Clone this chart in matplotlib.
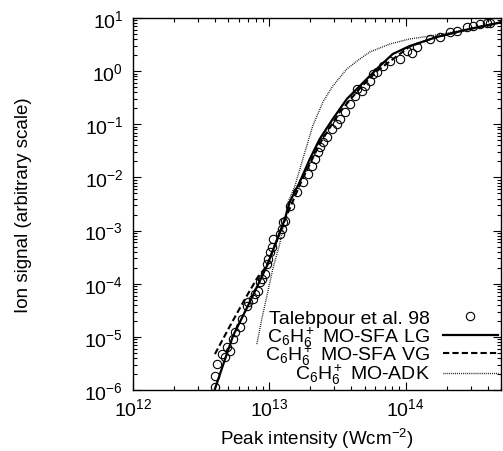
import matplotlib
matplotlib.use("Agg")
import matplotlib.pyplot as plt
from matplotlib.lines import Line2D
from matplotlib.ticker import LogLocator, NullFormatter

plt.rcParams['font.family'] = ['Liberation Sans', 'DejaVu Sans']
plt.rcParams['mathtext.fontset'] = 'custom'
plt.rcParams['mathtext.rm'] = 'Liberation Sans'
plt.rcParams['mathtext.it'] = 'Liberation Sans:italic'
plt.rcParams['mathtext.bf'] = 'Liberation Sans:bold'

# Experimental data (Talebpour et al. 98); intensity in units of 1e12 W/cm^2
exp_I = [3.99, 3.99, 4.12, 4.72, 4.49, 5.14, 4.89, 5.41, 5.58, 6.08, 6.30, 6.84, 6.95,
         7.57, 7.83, 8.24, 8.51, 8.81, 9.27, 9.59, 9.75, 10.1, 10.4, 10.6, 11.9, 12.4,
         13.0, 12.6, 14.1, 15.9, 17.6, 19.1, 20.5, 21.5, 22.6, 23.4, 24.7, 26.4, 28.7,
         31.3, 32.8, 35.7, 38.9, 42.3, 43.8, 47.6, 50.1, 54.5, 57.3, 61.4, 67.9, 76.4,
         90.4, 102, 111, 121, 150, 177, 210, 237, 280, 310, 348, 392, 412]
exp_S = [1.14e-6, 1.83e-6, 3.08e-6, 4.18e-6, 4.75e-6, 5.42e-6, 6.44e-6, 9.1e-6, 1.23e-5,
         1.53e-5, 2.17e-5, 3.80e-5, 4.53e-5, 5.15e-5, 6.40e-5, 7.29e-5, 1.08e-4, 1.23e-4,
         1.52e-4, 2.35e-4, 2.92e-4, 3.95e-4, 4.91e-4, 6.93e-4, 8.61e-4, 1.07e-3, 1.51e-3,
         1.45e-3, 2.90e-3, 5.32e-3, 8.20e-3, 1.16e-2, 1.64e-2, 2.22e-2, 3.01e-2, 3.73e-2,
         4.65e-2, 5.77e-2, 8.15e-2, 0.101, 0.126, 0.170, 0.241, 0.340, 0.461, 0.423, 0.525,
         0.652, 0.883, 0.964, 1.25, 1.55, 1.69, 2.39, 2.2, 2.84, 4.03, 4.39, 5.46, 5.69,
         6.78, 7.06, 7.71, 8.05, 8.05]

# MO-SFA length gauge
lg_I = [3.99, 5.41, 7.19, 9.59, 13.0, 14.1, 16.7, 19.8, 23.4, 29.2, 37.0, 46.0, 61.4,
        80.3, 107, 169, 294, 514]
lg_S = [1.05e-6, 1.04e-5, 4.53e-5, 2.15e-4, 1.65e-3, 3.44e-3, 8.2e-3, 2.22e-2, 5.28e-2,
        0.126, 0.299, 0.525, 1.10, 2.10, 2.97, 4.39, 6.21, 8.41]

# MO-SFA velocity gauge
vg_I = [3.99, 5.14, 6.62, 8.24, 9.59, 13.0, 16.7, 23.4, 32.8, 46.0, 61.4, 107,
        169, 294, 514]
vg_S = [4.75e-6, 1.60e-5, 5.15e-5, 1.34e-4, 2.15e-4, 1.58e-3, 7.2e-3, 4.3e-2,
        0.17, 0.47, 1.0, 2.9, 4.39, 6.21, 8.41]

# MO-ADK
adk_I = [8.10, 8.81, 9.59, 10.6, 11.9, 13.0, 13.7, 15.4, 17.6, 20.8, 24.7, 29.2, 37.0,
         46.0, 54.5, 76.4, 107, 169, 294, 514]
adk_S = [7.3e-6, 2.17e-5, 5.87e-5, 1.89e-4, 5.58e-4, 1.65e-3, 3.44e-3, 6.9e-3, 2.22e-2,
         9.3e-2, 0.262, 0.525, 1.10, 1.69, 2.29, 3.24, 4.03, 4.8, 6.21, 8.41]

labels = ['Talebpour et al. 98', r'C$_6$H$_6^+$ MO-SFA LG',
          r'C$_6$H$_6^+$ MO-SFA VG', r'C$_6$H$_6^+$ MO-ADK']

scale = 1e12

fig = plt.figure(figsize=(5.03, 4.52), dpi=100)
ax = fig.add_axes([133/503, 1 - 391/452, (501-133)/503, (391-19)/452])

st_exp = dict(marker='o', ls='none', mfc='none', mec='black', ms=6, mew=0.8)
st_lg = dict(ls='-', color='black', lw=1.6)
st_vg = dict(ls='--', color='black', lw=1.5, dashes=(3, 1.5))
st_adk = dict(ls=':', color='black', lw=1.0, dashes=(0.6, 0.8))

ax.plot([i*scale for i in exp_I], exp_S, **st_exp)
ax.plot([i*scale for i in lg_I], lg_S, **st_lg)
ax.plot([i*scale for i in vg_I], vg_S, **st_vg)
ax.plot([i*scale for i in adk_I], adk_S, **st_adk)

ax.set_xscale('log')
ax.set_yscale('log')
ax.set_xlim(1e12, 5e14)
ax.set_ylim(1e-6, 1e1)

ax.xaxis.set_major_locator(LogLocator(base=10, numticks=10))
ax.xaxis.set_minor_locator(LogLocator(base=10, subs=range(2, 10), numticks=20))
ax.yaxis.set_major_locator(LogLocator(base=10, numticks=10))
ax.yaxis.set_minor_locator(LogLocator(base=10, subs=range(2, 10), numticks=20))
ax.xaxis.set_minor_formatter(NullFormatter())
ax.yaxis.set_minor_formatter(NullFormatter())

ax.tick_params(which='both', direction='in', top=True, right=True, labelsize=14,
               width=0.8)
ax.tick_params(which='major', length=6)
ax.tick_params(axis='x', which='major', pad=5)
ax.tick_params(axis='y', which='major', pad=7)
ax.tick_params(which='minor', length=3)
for s in ax.spines.values():
    s.set_linewidth(1.0)

ax.set_xlabel(r'Peak intensity (Wcm$^{-2}$)', fontsize=13.5, labelpad=5)
ax.set_ylabel('Ion signal (arbitrary scale)', fontsize=13.5, labelpad=38)

# Key (gnuplot-style: right-aligned text, sample to the right)
text_x = 0.807
h_x0, h_x1 = 0.842, 0.992
baselines = [0.180, 0.129, 0.0806, 0.0296]
sample_y = [0.199, 0.148, 0.0995, 0.0457]
styles = [st_exp, st_lg, st_vg, st_adk]
for lab, yb, ys, st in zip(labels, baselines, sample_y, styles):
    ax.text(text_x, yb, lab, transform=ax.transAxes, ha='right', va='baseline',
            fontsize=14)
    if st is st_exp:
        ax.add_line(Line2D([(h_x0 + h_x1) / 2], [ys], transform=ax.transAxes, **st))
    else:
        ax.add_line(Line2D([h_x0, h_x1], [ys, ys], transform=ax.transAxes, **st))

fig.savefig('out.png', dpi=100)
